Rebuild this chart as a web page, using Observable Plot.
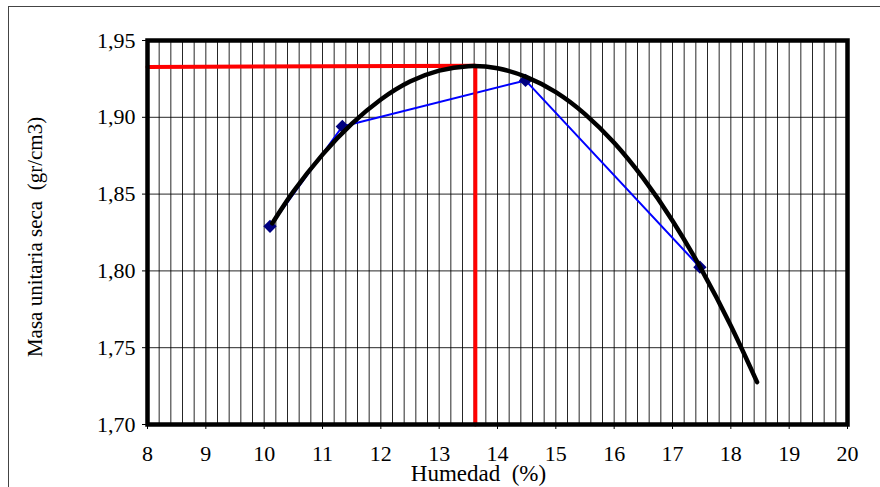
<!DOCTYPE html>
<html><head><meta charset="utf-8">
<script src="https://cdn.jsdelivr.net/npm/d3@7"></script>
<script src="https://cdn.jsdelivr.net/npm/@observablehq/plot@0.6"></script>
<style>
body{margin:0;background:#fff;}
#wrap{position:relative;width:880px;height:487px;overflow:hidden;background:#fff;}
#border{position:absolute;left:8px;top:6px;width:900px;height:500px;border-left:1.5px solid #444;border-top:1.5px solid #444;}
#chart{position:absolute;left:0;top:0;}
#chart svg, #chart svg text{font-family:"Liberation Serif","Times New Roman",serif !important;}
</style></head><body>
<div id="wrap"><div id="border"></div><div id="chart"></div></div>
<script>
// measured points (Humedad %, Masa unitaria seca gr/cm3)
const humedad = [10.10, 11.34, 14.48, 17.47];
const masa = [1.829, 1.894, 1.924, 1.8024];
// fitted (trend) curve
const curveX = [10.14, 10.5, 11, 11.5, 12, 12.5, 13, 13.5, 14, 14.5, 15, 15.5, 16, 16.5, 17, 17.5, 18, 18.45];
const curveY = [1.8310, 1.8516, 1.8757, 1.8957, 1.9116, 1.9233, 1.9304, 1.9333, 1.9319, 1.9262, 1.9164, 1.9021, 1.8834, 1.8602, 1.8327, 1.8007, 1.7643, 1.7276];
// optimum moisture / max density guide
const optX = [8, 13.62, 13.62];
const optY = [1.9327, 1.9336, 1.70];
// ticks
const xTicks = [8, 9, 10, 11, 12, 13, 14, 15, 16, 17, 18, 19, 20];
const yTicks = [1.70, 1.75, 1.80, 1.85, 1.90, 1.95];
const yGrid = [1.75, 1.80, 1.85, 1.90];
const xGrid = d3.range(41, 100).map(i => i / 5);

const points = humedad.map((x, i) => ({x, y: masa[i]}));
const curve = curveX.map((x, i) => ({x, y: curveY[i]}));
const opt = optX.map((x, i) => ({x, y: optY[i]}));
const fmt = d => d.toFixed(2).replace(".", ",");
const serif = "'Liberation Serif', 'Times New Roman', serif";

const plot = Plot.plot({
  width: 880, height: 487,
  marginLeft: 147, marginRight: 33, marginTop: 40, marginBottom: 63,
  style: {fontFamily: serif, fontSize: "21px", color: "#000", background: "transparent"},
  x: {domain: [8, 20]},
  y: {domain: [1.70, 1.95]},
  marks: [
    Plot.gridX(xGrid, {stroke: "#000", strokeOpacity: 0.85, strokeWidth: 1}),
    Plot.gridY(yGrid, {stroke: "#000", strokeOpacity: 0.85, strokeWidth: 1}),
    Plot.axisX(xTicks, {tickSize: 5, tickPadding: 16, tickFormat: d => String(d), label: null, fontSize: 22, fontFamily: serif}),
    Plot.axisY(yTicks, {tickSize: 5, tickPadding: 7, tickFormat: fmt, label: null, fontSize: 22, fontFamily: serif}),
    Plot.line(points, {x: "x", y: "y", stroke: "#0000ff", strokeWidth: 2}),
    Plot.line(opt, {x: "x", y: "y", stroke: "#ff0000", strokeWidth: 4}),
    Plot.dot(points, {x: "x", y: "y", symbol: "diamond2", r: 6, fill: "#000080", stroke: null}),
    Plot.line(curve, {x: "x", y: "y", stroke: "#000", strokeWidth: 4.5, curve: "natural", strokeLinecap: "round"}),
    Plot.frame({stroke: "#000", strokeWidth: 4.5}),
    Plot.text(["Humedad\u00a0 (%)"], {frameAnchor: "bottom", textAnchor: "middle", dx: -19, dy: 56, lineAnchor: "bottom", fontSize: 23, fontFamily: serif}),
    Plot.text(["Masa unitaria seca\u00a0 (gr/cm3)"], {frameAnchor: "left", textAnchor: "middle", rotate: -90, dx: -106, dy: 4.5, lineAnchor: "bottom", fontSize: 21, fontFamily: serif})
  ]
});
document.getElementById("chart").appendChild(plot);
</script>
</body></html>
